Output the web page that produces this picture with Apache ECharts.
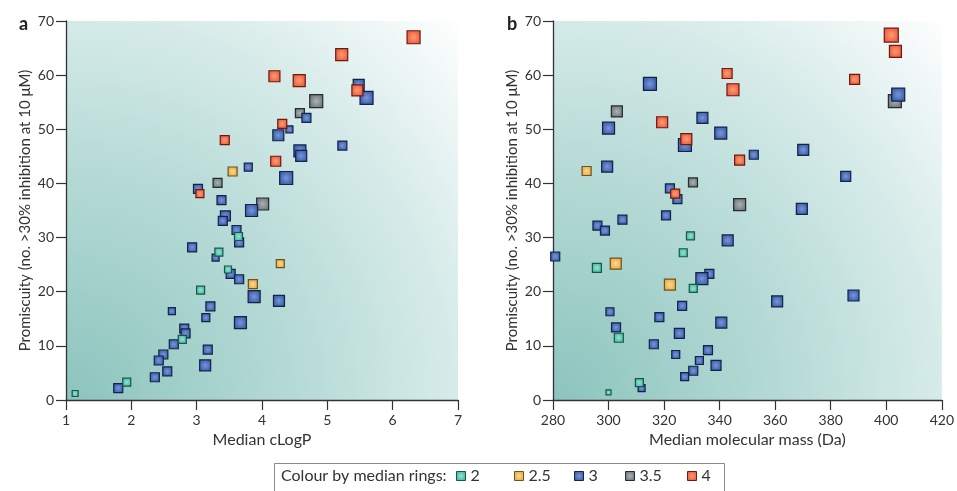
<!DOCTYPE html>
<html><head><meta charset="utf-8">
<script src="https://cdn.jsdelivr.net/npm/echarts@6/dist/echarts.min.js"></script>
<style>html,body{margin:0;padding:0;background:#fff}#c{width:957px;height:491px}</style>
</head><body><div id="c"></div>
<script>
// ---- data: [x, promiscuity, relative marker weight] ----
// Panel a: x = median cLogP
var aRing2 = [[3.64,30.2,8],[3.34,27.3,8],[3.48,24.1,7],[3.06,20.3,8],[2.78,11.2,8],[1.93,3.3,8],[1.14,1.2,6]];
var aRing25 = [[3.55,42.2,9],[3.86,21.4,9],[4.28,25.2,8]];
var aRing3 = [[3.79,43.0,8],[3.02,39.0,9],[3.38,36.9,9],[3.44,34.0,10],[3.84,35.0,12],[5.48,58.2,11],[5.60,55.8,13],[4.68,52.1,9],[4.42,50.0,7],[4.25,48.9,11],[5.23,47.0,9],[4.58,46.0,12],[4.60,45.1,11],[4.37,41.0,13],[3.40,33.1,9],[3.61,31.4,9],[3.65,29.1,9],[2.93,28.2,9],[3.29,26.3,7],[3.52,23.3,9],[3.65,22.3,9],[3.88,19.1,12],[2.62,16.4,7],[3.21,17.3,9],[3.14,15.2,8],[3.67,14.3,12],[2.81,13.2,9],[2.83,12.3,9],[2.65,10.3,9],[3.17,9.3,9],[2.49,8.4,9],[2.42,7.3,9],[3.13,6.4,11],[2.55,5.3,9],[2.36,4.2,9],[1.80,2.2,9],[4.26,18.3,11]];
var aRing35 = [[3.32,40.1,9],[4.01,36.2,12],[4.83,55.2,13],[4.58,53.0,9]];
var aRing4 = [[3.43,48.0,9],[3.05,38.1,8],[6.32,67.0,13],[5.22,63.8,12],[4.19,59.8,11],[4.57,59.0,12],[5.46,57.2,11],[4.31,51.0,9],[4.21,44.1,10]];
// Panel b: x = median molecular mass (Da)
var bRing2 = [[329.5,30.3,8],[326.9,27.2,8],[295.8,24.4,9],[330.5,20.6,8],[303.7,11.5,9],[311.1,3.2,8],[300.0,1.4,5]];
var bRing25 = [[292.1,42.3,9],[302.6,25.2,11],[322.1,21.3,11]];
var bRing3 = [[314.9,58.4,13],[333.8,52.1,11],[300.0,50.2,12],[340.4,49.3,12],[327.5,47.1,13],[299.5,43.1,11],[322.1,39.1,9],[324.8,37.1,9],[305.0,33.3,9],[320.7,34.1,9],[404.3,56.4,13],[370.1,46.2,11],[352.3,45.3,9],[385.4,41.3,10],[369.6,35.3,11],[296.0,32.2,9],[298.7,31.3,9],[342.9,29.5,11],[280.8,26.5,9],[336.3,23.3,9],[333.6,22.4,12],[326.5,17.4,9],[300.5,16.3,8],[318.3,15.3,9],[340.6,14.3,11],[302.7,13.4,9],[325.5,12.3,10],[316.3,10.3,9],[335.8,9.2,9],[324.2,8.4,8],[332.7,7.3,8],[338.7,6.4,10],[330.5,5.4,9],[327.4,4.3,8],[311.9,2.2,7],[360.7,18.2,11],[388.2,19.3,11]];
var bRing35 = [[303.0,53.3,11],[330.4,40.2,9],[347.2,36.1,12],[403.1,55.2,13]];
var bRing4 = [[342.7,60.3,10],[344.8,57.3,12],[319.3,51.3,11],[328.0,48.2,11],[347.2,44.3,10],[324.0,38.1,9],[401.8,67.4,14],[403.3,64.4,12],[388.6,59.2,10]];

var ringNames = ['2','2.5','3','3.5','4'];
var xTicksA = {min:1, max:7, interval:1};
var xTicksB = {min:280, max:420, interval:20};
var yTicks = {min:0, max:70, interval:10};

var palette = {
  '2':   {light:'#8fe6d2', dark:'#2aa08a', border:'#1b564a'},
  '2.5': {light:'#ffd98a', dark:'#d9982c', border:'#6e5220'},
  '3':   {light:'#7497dd', dark:'#26438c', border:'#142348'},
  '3.5': {light:'#aab2b6', dark:'#555e62', border:'#262c2f'},
  '4':   {light:'#ff9c72', dark:'#e0402a', border:'#6e1a10'}
};
var FONT = 'Lato';
var legendLefts = [456, 514, 574, 625, 687];

function fillFor(n){
  var p = palette[n];
  return new echarts.graphic.RadialGradient(0.5,0.5,0.75,[{offset:0,color:p.light},{offset:1,color:p.dark}]);
}
function bg(){
  return new echarts.graphic.RadialGradient(0,1,1.45,[
    {offset:0,color:'#8cc4bd'},{offset:0.45,color:'#b9dcd8'},{offset:0.72,color:'#d8ecea'},{offset:1,color:'#ffffff'}]);
}
function mkSeries(name, data, idx){
  var p = palette[name];
  return {type:'scatter', name:name, xAxisIndex:idx, yAxisIndex:idx, data:data,
    symbol:'rect', symbolSize:function(v){return v[2];},
    itemStyle:{color:fillFor(name), borderColor:p.border, borderWidth:1.2, opacity:1},
    emphasis:{disabled:true}, z: 2};
}
function xAxis(idx, t, name){
  return {type:'value', gridIndex:idx, min:t.min, max:t.max, interval:t.interval,
    name:name, nameLocation:'middle', nameGap:30,
    nameTextStyle:{color:'#333', fontSize:16, fontFamily:FONT},
    axisLine:{show:true, onZero:false, lineStyle:{color:'#333', width:1.3}},
    axisTick:{show:true, length:10, lineStyle:{color:'#333', width:1.2}},
    axisLabel:{color:'#333', fontSize:14, fontFamily:FONT, margin:13},
    splitLine:{show:false}};
}
function yAxis(idx){
  return {type:'value', gridIndex:idx, min:yTicks.min, max:yTicks.max, interval:yTicks.interval,
    name:'Promiscuity (no. >30% inhibition at 10 \u03bcM)', nameLocation:'middle', nameGap:33,
    nameTextStyle:{color:'#333', fontSize:15, fontFamily:FONT},
    axisLine:{show:true, onZero:false, lineStyle:{color:'#333', width:1.3}},
    axisTick:{show:true, length:10, lineStyle:{color:'#333', width:1.2}},
    axisLabel:{color:'#333', fontSize:14, fontFamily:FONT, margin:12},
    splitLine:{show:false}};
}

var series = [];
[['3.5',aRing35,bRing35],['3',aRing3,bRing3],['2',aRing2,bRing2],['2.5',aRing25,bRing25],['4',aRing4,bRing4]].forEach(function(r){
  series.push(mkSeries(r[0], r[1], 0));
  series.push(mkSeries(r[0], r[2], 1));
});

var legends = ringNames.map(function(n, i){
  return {data:[n], left:legendLefts[i], top:468, orient:'horizontal', padding:0,
    itemWidth:9, itemHeight:9, icon:'rect', selectedMode:false,
    textStyle:{color:'#333', fontSize:16, fontFamily:FONT},
    itemStyle:{borderWidth:1}};
});

var chart = echarts.init(document.getElementById('c'), null, {renderer:'canvas'});
chart.setOption({
  animation:false,
  backgroundColor:'#ffffff',
  textStyle:{fontFamily:FONT},
  title:[
    {text:'a', left:14, top:10, textStyle:{fontSize:18, fontWeight:'bold', color:'#222', fontFamily:FONT}},
    {text:'b', left:502, top:10, textStyle:{fontSize:18, fontWeight:'bold', color:'#222', fontFamily:FONT}}
  ],
  grid:[
    {left:66, right:499, top:21, bottom:91, show:true, borderWidth:0, backgroundColor:bg()},
    {left:553, right:12, top:21, bottom:91, show:true, borderWidth:0, backgroundColor:bg()}
  ],
  xAxis:[xAxis(0, xTicksA, 'Median cLogP'), xAxis(1, xTicksB, 'Median molecular mass (Da)')],
  yAxis:[yAxis(0), yAxis(1)],
  legend:legends,
  graphic:[
    {type:'rect', left:272, top:461, z:90, shape:{width:450, height:40}, style:{fill:'none', stroke:'#8a8a8a', lineWidth:1}},
    {type:'text', left:281, top:468, z:100, style:{text:'Colour by median rings:', fill:'#333', font:'16px Lato'}}
  ],
  series:series
});
</script></body></html>
